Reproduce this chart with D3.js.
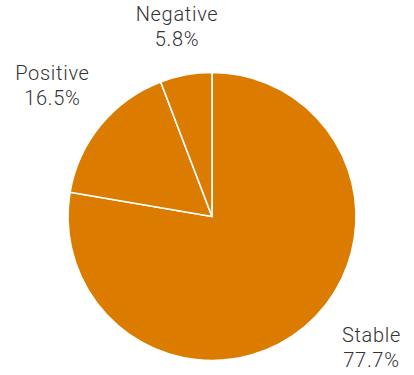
<!DOCTYPE html>
<html>
<head>
<meta charset="utf-8">
<script src="https://cdn.jsdelivr.net/npm/d3@7"></script>
<style>
  html, body { margin: 0; padding: 0; background: #fff; }
  svg { display: block; }
  text { font-family: "Roboto", "Noto Sans", sans-serif; font-weight: 300; fill: #333; letter-spacing: 0.7px; }
</style>
</head>
<body>
<svg id="chart" width="414" height="375"></svg>
<script>
// Outlook distribution
const categories = ["Stable", "Positive", "Negative"];
const shares = [77.7, 16.5, 5.8];
const sliceColor = "#DB7C00";

const W = 414, H = 375;
const cx = 212, cy = 216.5, R = 144;
const labelGap = 24;      // distance from the rim to the nearest edge of a label
const fontSize = 20, lineHeight = 25;

const data = categories.map((c, i) => ({ name: c, value: shares[i] }));

const svg = d3.select("#chart");
const g = svg.append("g").attr("transform", `translate(${cx},${cy})`);

const pie = d3.pie().value(d => d.value).sort(null);
const arc = d3.arc().innerRadius(0).outerRadius(R);
const arcs = pie(data);

g.selectAll("path.slice")
  .data(arcs)
  .join("path")
  .attr("class", "slice")
  .attr("d", arc)
  .attr("fill", sliceColor)
  .attr("stroke", "#fff")
  .attr("stroke-width", 1.6)
  .attr("stroke-linejoin", "round");

// Two-line labels, placed outward from each slice's mid-angle
const fmt = d3.format(".1f");
const labels = g.selectAll("g.label")
  .data(arcs)
  .join("g")
  .attr("class", "label");

labels.each(function(d) {
  const lg = d3.select(this);
  const t = lg.append("text")
    .attr("text-anchor", "middle")
    .style("font-size", fontSize + "px");
  t.append("tspan").attr("x", 0).attr("y", 0).text(d.data.name);
  t.append("tspan").attr("x", 0).attr("y", lineHeight).text(fmt(d.data.value) + "%");

  const bb = t.node().getBBox();
  const hw = bb.width / 2, hh = bb.height / 2;
  const offY = -(bb.y + hh); // shifts the text so its box is centred on the anchor

  const place = a => {
    const s = Math.sin(a), c = Math.cos(a);
    const edge = Math.min(Math.abs(s) > 1e-6 ? hw / Math.abs(s) : Infinity,
                          Math.abs(c) > 1e-6 ? hh / Math.abs(c) : Infinity);
    const r = R + labelGap + edge;
    return [r * s, -r * c];
  };

  let a = (d.startAngle + d.endAngle) / 2;
  let p = place(a);
  // keep the label inside the drawing area by sliding it along the circle
  let guard = 0;
  while (cy + p[1] + hh > H - 3 && guard++ < 200) {
    a += (Math.sin(a) >= 0 ? -1 : 1) * Math.PI / 360;
    p = place(a);
  }
  lg.attr("transform", `translate(${p[0]},${p[1] + offY})`);
});
</script>
</body>
</html>
